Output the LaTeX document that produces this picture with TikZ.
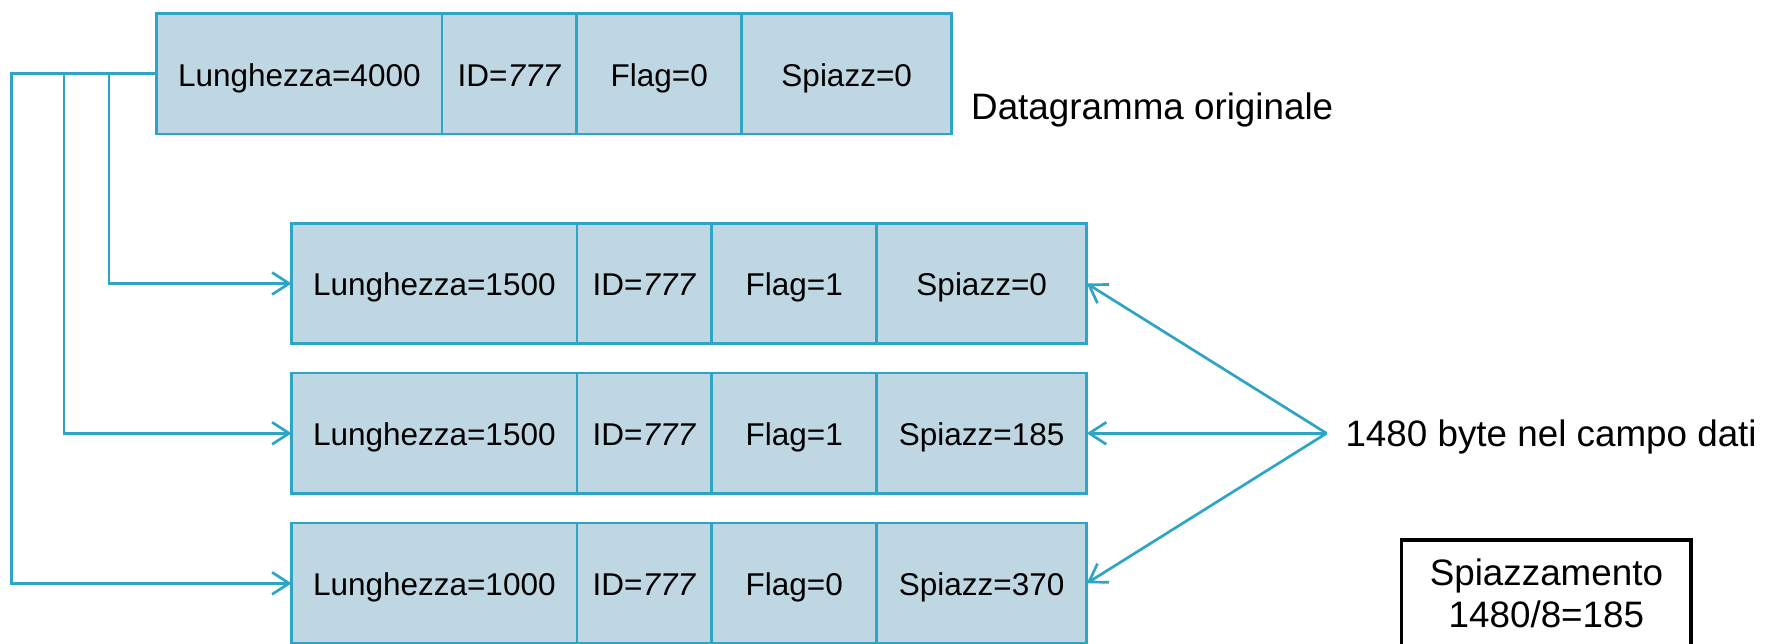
\documentclass[tikz,border=0pt]{standalone}
\usepackage{fontspec}
\setmainfont{Liberation Sans}
\usetikzlibrary{arrows.meta,positioning}
\definecolor{fieldfill}{RGB}{191,215,226}
\definecolor{fieldline}{RGB}{46,165,196}

\begin{document}
\begin{tikzpicture}[x=1pt,y=-1pt,
  field/.style={draw=fieldline, fill=fieldfill, line width=2.8pt, outer sep=0pt,
    inner sep=0pt, minimum height=120.5pt, text height=25pt, text depth=0pt,
    anchor=west, font=\fontsize{31.5}{38}\selectfont},
  lenf/.style={field, minimum width=285.4pt},
  idf/.style={field, minimum width=134.8pt},
  flagf/.style={field, minimum width=164.8pt},
  offf/.style={field, minimum width=210.2pt},
  link/.style={draw=fieldline, line width=2.7pt,
    -{Straight Barb[length=17pt,width=22pt]}},
  note/.style={font=\fontsize{36.8}{41.7}\selectfont, inner sep=0pt}]

\path[use as bounding box] (0,0) rectangle (1767,644);
\clip (0,0) rectangle (1767,644);

% original datagram
\node[lenf] (t1) at (156.6,73.7) {Lunghezza=4000};
\node[idf, right=0pt of t1] (t2) {ID=\textit{777}};
\node[flagf, right=0pt of t2] (t3) {Flag=0};
\node[offf, right=0pt of t3] (t4) {Spiazz=0};
\node[note, anchor=base west] (orig) at (971,119.3) {Datagramma originale};

% fragments
\node[lenf] (a1) at (291.6,283.5) {Lunghezza=1500};
\node[idf, right=0pt of a1] (a2) {ID=\textit{777}};
\node[flagf, right=0pt of a2] (a3) {Flag=1};
\node[offf, right=0pt of a3] (a4) {Spiazz=0};

\node[lenf] (b1) at (291.6,433.3) {Lunghezza=1500};
\node[idf, right=0pt of b1] (b2) {ID=\textit{777}};
\node[flagf, right=0pt of b2] (b3) {Flag=1};
\node[offf, right=0pt of b3] (b4) {Spiazz=185};

\node[lenf] (c1) at (291.6,583.3) {Lunghezza=1000};
\node[idf, right=0pt of c1] (c2) {ID=\textit{777}};
\node[flagf, right=0pt of c2] (c3) {Flag=0};
\node[offf, right=0pt of c3] (c4) {Spiazz=370};

% data field label and offset note
\coordinate (hub) at (1326.5,433.3);
\node[note, anchor=base west] (dati) at (1345.3,446.7) {1480 byte nel campo dati};
\node[note, draw=black, line width=3.2pt, align=center, anchor=north,
  minimum width=289.3pt, minimum height=107.4pt] (calc) at (1546.4,538.3)
  {Spiazzamento\\1480/8=185};

% branches from the original datagram to each fragment
\coordinate (k1) at (109,0);
\coordinate (k2) at (64,0);
\coordinate (k3) at (11.5,0);
\draw[link] (t1.west) -- (t1.west -| k1) |- (a1.west);
\draw[link] (t1.west) -- (t1.west -| k2) |- (b1.west);
\draw[link] (t1.west) -- (t1.west -| k3) |- (c1.west);

% arrows to the offset fields
\draw[link] (hub) -- (a4.east);
\draw[link] (hub) -- (b4.east);
\draw[link] (hub) -- (c4.east);
\end{tikzpicture}
\end{document}
